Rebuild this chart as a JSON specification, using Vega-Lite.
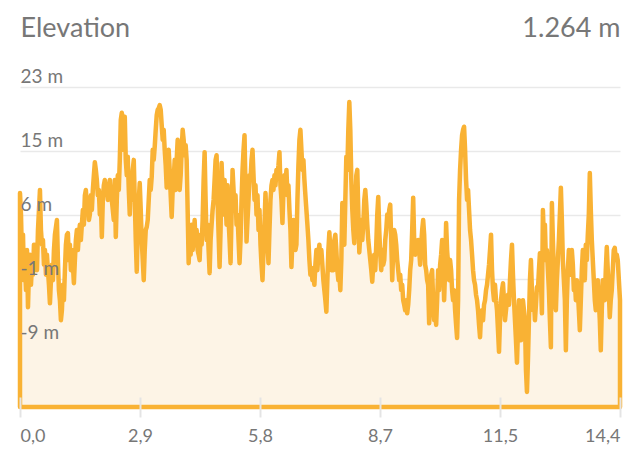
{
  "$schema": "https://vega.github.io/schema/vega-lite/v6.json",
  "autosize": {"type": "none"},
  "width": 600,
  "height": 320,
  "padding": {"left": 20, "top": 87, "right": 20, "bottom": 65},
  "background": "white",
  "config": {"view": {"stroke": null}, "font": "Lato"},
  "data": {"values": [
{"km":0,"m":9.6},{"km":0.024,"m":6.8},{"km":0.048,"m":0.9},{"km":0.072,"m":4.2},{"km":0.096,"m":-1.7},{"km":0.12,"m":0.3},{"km":0.144,"m":-3.0},{"km":0.168,"m":2.2},{"km":0.192,"m":-5.2},{"km":0.216,"m":-0.4},{"km":0.24,"m":1.6},{"km":0.264,"m":-2.3},{"km":0.288,"m":0.3},{"km":0.312,"m":-1.0},{"km":0.336,"m":2.9},{"km":0.36,"m":0.9},{"km":0.384,"m":2.9},{"km":0.408,"m":-0.4},{"km":0.432,"m":4.8},{"km":0.456,"m":7.4},{"km":0.48,"m":10.0},{"km":0.504,"m":4.8},{"km":0.528,"m":2.9},{"km":0.552,"m":3.5},{"km":0.576,"m":0.3},{"km":0.6,"m":2.2},{"km":0.624,"m":-1.0},{"km":0.648,"m":1.6},{"km":0.672,"m":-0.4},{"km":0.696,"m":-2.3},{"km":0.72,"m":-4.7},{"km":0.744,"m":-1.7},{"km":0.768,"m":0.3},{"km":0.792,"m":-1.7},{"km":0.816,"m":2.2},{"km":0.84,"m":4.2},{"km":0.888,"m":6.1},{"km":0.912,"m":0.9},{"km":0.936,"m":-3.0},{"km":0.96,"m":-4.3},{"km":0.984,"m":-6.9},{"km":1.008,"m":-5.6},{"km":1.032,"m":-2.3},{"km":1.056,"m":-4.3},{"km":1.08,"m":-0.4},{"km":1.104,"m":2.9},{"km":1.128,"m":4.2},{"km":1.152,"m":4.4},{"km":1.176,"m":0.9},{"km":1.2,"m":2.9},{"km":1.224,"m":-0.4},{"km":1.248,"m":2.2},{"km":1.272,"m":0.3},{"km":1.296,"m":-2.1},{"km":1.32,"m":0.9},{"km":1.344,"m":3.5},{"km":1.368,"m":4.8},{"km":1.392,"m":2.2},{"km":1.416,"m":4.2},{"km":1.44,"m":5.5},{"km":1.464,"m":3.5},{"km":1.488,"m":5.5},{"km":1.512,"m":7.4},{"km":1.536,"m":5.5},{"km":1.56,"m":9.3},{"km":1.584,"m":10.0},{"km":1.608,"m":8.1},{"km":1.632,"m":8.7},{"km":1.656,"m":6.1},{"km":1.68,"m":6.8},{"km":1.704,"m":9.3},{"km":1.728,"m":7.4},{"km":1.752,"m":10.0},{"km":1.776,"m":11.9},{"km":1.8,"m":13.6},{"km":1.824,"m":12.6},{"km":1.848,"m":11.3},{"km":1.872,"m":9.3},{"km":1.896,"m":10.0},{"km":1.92,"m":6.8},{"km":1.944,"m":8.7},{"km":1.968,"m":3.9},{"km":1.992,"m":8.7},{"km":2.016,"m":10.6},{"km":2.04,"m":11.3},{"km":2.064,"m":10.0},{"km":2.088,"m":10.6},{"km":2.112,"m":8.7},{"km":2.136,"m":10.0},{"km":2.16,"m":11.3},{"km":2.184,"m":9.3},{"km":2.208,"m":8.7},{"km":2.232,"m":7.4},{"km":2.256,"m":6.1},{"km":2.28,"m":11.3},{"km":2.304,"m":3.9},{"km":2.328,"m":8.7},{"km":2.352,"m":11.9},
{"km":2.376,"m":10.0},{"km":2.4,"m":13.9},{"km":2.424,"m":19.1},{"km":2.448,"m":20.0},{"km":2.472,"m":19.3},{"km":2.496,"m":15.2},{"km":2.52,"m":19.5},{"km":2.544,"m":13.9},{"km":2.568,"m":11.9},{"km":2.592,"m":14.3},{"km":2.616,"m":10.0},{"km":2.64,"m":6.8},{"km":2.664,"m":11.3},{"km":2.688,"m":8.7},{"km":2.712,"m":12.6},{"km":2.736,"m":13.9},{"km":2.76,"m":8.7},{"km":2.784,"m":3.5},{"km":2.808,"m":-0.6},{"km":2.832,"m":4.8},{"km":2.856,"m":8.7},{"km":2.88,"m":10.9},{"km":2.904,"m":7.4},{"km":2.928,"m":3.5},{"km":2.952,"m":0.9},{"km":2.976,"m":-1.7},{"km":3.0,"m":2.2},{"km":3.024,"m":4.8},{"km":3.048,"m":5.2},{"km":3.072,"m":6.1},{"km":3.096,"m":8.7},{"km":3.12,"m":11.3},{"km":3.144,"m":10.0},{"km":3.168,"m":11.7},{"km":3.192,"m":15.2},{"km":3.216,"m":13.9},{"km":3.24,"m":15.6},{"km":3.264,"m":17.8},{"km":3.288,"m":19.7},{"km":3.312,"m":20.4},{"km":3.336,"m":20.6},{"km":3.36,"m":21.0},{"km":3.384,"m":20.4},{"km":3.408,"m":18.4},{"km":3.432,"m":16.5},{"km":3.456,"m":17.8},{"km":3.48,"m":15.2},{"km":3.504,"m":13.2},{"km":3.528,"m":10.3},{"km":3.552,"m":13.9},{"km":3.576,"m":15.2},{"km":3.6,"m":12.6},{"km":3.624,"m":9.3},{"km":3.648,"m":6.5},{"km":3.672,"m":10.0},{"km":3.696,"m":11.3},{"km":3.72,"m":13.9},{"km":3.744,"m":10.0},{"km":3.768,"m":13.9},{"km":3.792,"m":16.5},{"km":3.816,"m":13.2},{"km":3.84,"m":10.0},{"km":3.864,"m":11.9},{"km":3.888,"m":15.2},{"km":3.912,"m":17.8},{"km":3.936,"m":16.5},{"km":3.96,"m":14.5},{"km":3.984,"m":15.8},{"km":4.008,"m":13.9},{"km":4.032,"m":7.4},{"km":4.056,"m":0.5},{"km":4.08,"m":3.5},{"km":4.104,"m":1.6},{"km":4.128,"m":5.5},{"km":4.152,"m":2.2},{"km":4.176,"m":3.5},{"km":4.2,"m":6.1},{"km":4.224,"m":2.9},{"km":4.248,"m":4.8},{"km":4.272,"m":2.2},{"km":4.296,"m":1.6},{"km":4.32,"m":0.9},{"km":4.344,"m":4.2},{"km":4.368,"m":2.9},{"km":4.392,"m":6.1},{"km":4.416,"m":11.3},{"km":4.44,"m":14.9},{"km":4.464,"m":8.7},{"km":4.488,"m":3.5},{"km":4.512,"m":5.5},{"km":4.536,"m":2.2},{"km":4.56,"m":-0.8},{"km":4.584,"m":3.5},{"km":4.608,"m":5.5},{"km":4.632,"m":7.4},{"km":4.656,"m":8.7},{"km":4.68,"m":11.3},{"km":4.704,"m":13.9},{"km":4.728,"m":14.5},{"km":4.752,"m":8.7},{"km":4.776,"m":4.2},{"km":4.8,"m":0.0},
{"km":4.824,"m":4.8},{"km":4.848,"m":13.5},{"km":4.872,"m":10.0},{"km":4.896,"m":6.8},{"km":4.92,"m":11.3},{"km":4.944,"m":8.7},{"km":4.968,"m":5.5},{"km":4.992,"m":10.6},{"km":5.016,"m":6.1},{"km":5.04,"m":3.5},{"km":5.064,"m":0.5},{"km":5.088,"m":6.8},{"km":5.112,"m":12.6},{"km":5.136,"m":10.0},{"km":5.16,"m":7.4},{"km":5.184,"m":9.3},{"km":5.208,"m":5.5},{"km":5.232,"m":6.8},{"km":5.256,"m":3.5},{"km":5.28,"m":0.5},{"km":5.304,"m":3.5},{"km":5.328,"m":8.7},{"km":5.352,"m":12.6},{"km":5.376,"m":15.2},{"km":5.4,"m":17.1},{"km":5.424,"m":10.0},{"km":5.448,"m":3.3},{"km":5.472,"m":6.1},{"km":5.496,"m":8.7},{"km":5.52,"m":11.9},{"km":5.544,"m":11.3},{"km":5.568,"m":13.9},{"km":5.592,"m":15.2},{"km":5.616,"m":11.9},{"km":5.64,"m":8.7},{"km":5.664,"m":10.6},{"km":5.688,"m":6.8},{"km":5.712,"m":9.3},{"km":5.736,"m":4.8},{"km":5.76,"m":7.4},{"km":5.784,"m":2.9},{"km":5.808,"m":0.3},{"km":5.832,"m":-1.7},{"km":5.856,"m":2.2},{"km":5.88,"m":5.5},{"km":5.904,"m":9.6},{"km":5.928,"m":6.1},{"km":5.952,"m":2.9},{"km":5.976,"m":0.5},{"km":6.0,"m":4.8},{"km":6.024,"m":8.7},{"km":6.048,"m":10.6},{"km":6.072,"m":11.3},{"km":6.096,"m":10.0},{"km":6.12,"m":11.9},{"km":6.144,"m":10.6},{"km":6.168,"m":12.6},{"km":6.192,"m":11.9},{"km":6.216,"m":13.2},{"km":6.24,"m":14.9},{"km":6.264,"m":10.6},{"km":6.288,"m":8.7},{"km":6.312,"m":5.7},{"km":6.336,"m":10.0},{"km":6.36,"m":11.9},{"km":6.384,"m":10.6},{"km":6.408,"m":12.6},{"km":6.432,"m":9.3},{"km":6.456,"m":10.6},{"km":6.48,"m":7.4},{"km":6.504,"m":4.8},{"km":6.528,"m":0.0},{"km":6.552,"m":3.5},{"km":6.576,"m":6.1},{"km":6.6,"m":4.2},{"km":6.624,"m":2.2},{"km":6.648,"m":2.9},{"km":6.672,"m":8.7},{"km":6.696,"m":13.2},{"km":6.72,"m":16.5},{"km":6.744,"m":17.8},{"km":6.768,"m":15.2},{"km":6.792,"m":12.6},{"km":6.816,"m":13.9},{"km":6.84,"m":11.3},{"km":6.864,"m":9.3},{"km":6.888,"m":7.4},{"km":6.912,"m":5.5},{"km":6.936,"m":3.5},{"km":6.96,"m":0.9},{"km":6.984,"m":-1.0},{"km":7.008,"m":-0.1},{"km":7.032,"m":-1.7},{"km":7.056,"m":-1.3},{"km":7.08,"m":-2.3},{"km":7.104,"m":0.3},
{"km":7.128,"m":2.2},{"km":7.152,"m":-0.4},{"km":7.176,"m":1.6},{"km":7.2,"m":2.9},{"km":7.224,"m":0.9},{"km":7.248,"m":2.2},{"km":7.272,"m":0.3},{"km":7.296,"m":-1.7},{"km":7.32,"m":-3.0},{"km":7.344,"m":-4.3},{"km":7.368,"m":-5.8},{"km":7.392,"m":-1.7},{"km":7.416,"m":2.2},{"km":7.44,"m":4.5},{"km":7.464,"m":2.2},{"km":7.488,"m":-0.4},{"km":7.512,"m":1.6},{"km":7.536,"m":-0.4},{"km":7.56,"m":3.5},{"km":7.584,"m":4.2},{"km":7.608,"m":2.2},{"km":7.632,"m":-0.4},{"km":7.656,"m":-1.7},{"km":7.68,"m":-1.0},{"km":7.704,"m":-3.0},{"km":7.728,"m":0.9},{"km":7.752,"m":8.3},{"km":7.776,"m":4.8},{"km":7.8,"m":2.9},{"km":7.824,"m":8.7},{"km":7.848,"m":14.3},{"km":7.872,"m":12.6},{"km":7.896,"m":17.8},{"km":7.92,"m":21.4},{"km":7.944,"m":17.8},{"km":7.968,"m":11.3},{"km":7.992,"m":7.4},{"km":8.016,"m":4.8},{"km":8.04,"m":3.1},{"km":8.064,"m":7.4},{"km":8.088,"m":11.9},{"km":8.112,"m":12.6},{"km":8.136,"m":7.4},{"km":8.16,"m":1.9},{"km":8.184,"m":4.2},{"km":8.208,"m":6.1},{"km":8.232,"m":3.5},{"km":8.256,"m":5.5},{"km":8.28,"m":8.7},{"km":8.304,"m":10.0},{"km":8.328,"m":8.1},{"km":8.352,"m":5.5},{"km":8.376,"m":3.5},{"km":8.4,"m":2.2},{"km":8.424,"m":0.9},{"km":8.448,"m":-0.4},{"km":8.472,"m":-1.9},{"km":8.496,"m":0.3},{"km":8.52,"m":1.6},{"km":8.544,"m":-0.4},{"km":8.568,"m":2.9},{"km":8.592,"m":6.8},{"km":8.616,"m":9.1},{"km":8.64,"m":4.8},{"km":8.664,"m":1.6},{"km":8.688,"m":-0.4},{"km":8.712,"m":2.2},{"km":8.736,"m":0.3},{"km":8.76,"m":0.9},{"km":8.784,"m":3.5},{"km":8.808,"m":4.8},{"km":8.832,"m":6.8},{"km":8.856,"m":5.5},{"km":8.88,"m":7.4},{"km":8.904,"m":8.1},{"km":8.928,"m":3.5},{"km":8.952,"m":-1.7},{"km":8.976,"m":2.2},{"km":9.0,"m":4.8},{"km":9.024,"m":4.2},{"km":9.048,"m":2.9},{"km":9.072,"m":0.9},{"km":9.096,"m":-0.4},{"km":9.12,"m":-1.7},{"km":9.144,"m":-1.0},{"km":9.168,"m":-3.0},{"km":9.192,"m":-2.3},{"km":9.216,"m":-4.3},{"km":9.24,"m":-4.9},{"km":9.264,"m":-5.6},{"km":9.288,"m":-4.3},{"km":9.312,"m":-6.0},{"km":9.336,"m":-4.9},{"km":9.36,"m":-3.0},{"km":9.384,"m":-0.4},{"km":9.408,"m":0.9},{"km":9.432,"m":4.8},{"km":9.456,"m":9.0},{"km":9.48,"m":3.5},{"km":9.504,"m":1.6},{"km":9.528,"m":2.9},{"km":9.552,"m":2.2},
{"km":9.576,"m":3.5},{"km":9.6,"m":2.2},{"km":9.624,"m":0.3},{"km":9.648,"m":2.9},{"km":9.672,"m":4.8},{"km":9.696,"m":6.1},{"km":9.72,"m":4.2},{"km":9.744,"m":0.3},{"km":9.768,"m":-0.4},{"km":9.792,"m":-1.7},{"km":9.816,"m":-2.3},{"km":9.84,"m":-7.3},{"km":9.864,"m":-4.3},{"km":9.888,"m":-1.0},{"km":9.912,"m":-0.4},{"km":9.936,"m":-4.3},{"km":9.96,"m":-6.9},{"km":9.984,"m":-5.6},{"km":10.008,"m":-7.5},{"km":10.032,"m":-4.3},{"km":10.056,"m":-0.4},{"km":10.08,"m":-3.0},{"km":10.104,"m":0.3},{"km":10.128,"m":1.6},{"km":10.152,"m":3.5},{"km":10.176,"m":0.9},{"km":10.2,"m":-4.3},{"km":10.224,"m":-0.4},{"km":10.248,"m":5.7},{"km":10.272,"m":2.2},{"km":10.296,"m":0.3},{"km":10.32,"m":-1.7},{"km":10.344,"m":0.9},{"km":10.368,"m":-0.4},{"km":10.392,"m":-3.0},{"km":10.416,"m":-4.3},{"km":10.44,"m":-3.0},{"km":10.464,"m":-5.6},{"km":10.488,"m":-7.5},{"km":10.512,"m":-9.2},{"km":10.536,"m":-4.3},{"km":10.56,"m":8.7},{"km":10.584,"m":12.6},{"km":10.608,"m":15.2},{"km":10.632,"m":17.1},{"km":10.656,"m":17.8},{"km":10.68,"m":18.2},{"km":10.704,"m":15.2},{"km":10.728,"m":11.3},{"km":10.752,"m":8.7},{"km":10.776,"m":10.0},{"km":10.8,"m":7.4},{"km":10.824,"m":4.8},{"km":10.848,"m":3.5},{"km":10.872,"m":1.6},{"km":10.896,"m":-0.4},{"km":10.92,"m":-1.7},{"km":10.944,"m":-2.3},{"km":10.968,"m":-3.6},{"km":10.992,"m":-4.3},{"km":11.016,"m":-5.6},{"km":11.04,"m":-7.5},{"km":11.064,"m":-9.1},{"km":11.088,"m":-6.2},{"km":11.112,"m":-5.6},{"km":11.136,"m":-6.9},{"km":11.16,"m":-4.9},{"km":11.184,"m":-4.3},{"km":11.208,"m":-3.0},{"km":11.232,"m":-2.3},{"km":11.256,"m":-1.0},{"km":11.28,"m":0.3},{"km":11.304,"m":2.2},{"km":11.328,"m":4.2},{"km":11.352,"m":-0.4},{"km":11.376,"m":-3.0},{"km":11.4,"m":-4.3},{"km":11.424,"m":-2.3},{"km":11.448,"m":-4.3},{"km":11.472,"m":-5.6},{"km":11.496,"m":-8.2},{"km":11.52,"m":-11.0},{"km":11.544,"m":-6.9},{"km":11.568,"m":-4.3},{"km":11.592,"m":-3.0},{"km":11.616,"m":-2.1},{"km":11.64,"m":-4.3},{"km":11.664,"m":-6.9},{"km":11.688,"m":-5.6},{"km":11.712,"m":-4.3},{"km":11.736,"m":-3.6},{"km":11.76,"m":-4.9},{"km":11.784,"m":-1.7},{"km":11.808,"m":0.9},{"km":11.832,"m":2.9},{"km":11.856,"m":-1.0},{"km":11.88,"m":-4.3},{"km":11.904,"m":-6.9},{"km":11.928,"m":-9.5},{"km":11.952,"m":-12.4},
{"km":11.976,"m":-8.2},{"km":12.0,"m":-4.3},{"km":12.024,"m":-6.9},{"km":12.048,"m":-9.5},{"km":12.072,"m":-5.6},{"km":12.096,"m":-4.3},{"km":12.12,"m":-5.6},{"km":12.144,"m":-6.9},{"km":12.168,"m":-13.3},{"km":12.192,"m":-16.2},{"km":12.216,"m":-12.1},{"km":12.24,"m":-6.9},{"km":12.264,"m":-1.7},{"km":12.288,"m":0.9},{"km":12.312,"m":-3.0},{"km":12.336,"m":-5.6},{"km":12.36,"m":-4.3},{"km":12.384,"m":-6.9},{"km":12.408,"m":-4.9},{"km":12.432,"m":-2.6},{"km":12.456,"m":-3.0},{"km":12.48,"m":-0.4},{"km":12.504,"m":1.8},{"km":12.528,"m":-1.7},{"km":12.552,"m":-6.0},{"km":12.576,"m":7.4},{"km":12.6,"m":3.5},{"km":12.624,"m":5.5},{"km":12.648,"m":0.9},{"km":12.672,"m":2.2},{"km":12.696,"m":-0.4},{"km":12.72,"m":-3.0},{"km":12.744,"m":-6.9},{"km":12.768,"m":-10.4},{"km":12.792,"m":8.3},{"km":12.816,"m":3.5},{"km":12.84,"m":-0.4},{"km":12.864,"m":-4.3},{"km":12.888,"m":-5.6},{"km":12.912,"m":-1.7},{"km":12.936,"m":0.9},{"km":12.96,"m":3.5},{"km":12.984,"m":6.8},{"km":13.008,"m":10.3},{"km":13.032,"m":6.1},{"km":13.056,"m":0.9},{"km":13.08,"m":-1.7},{"km":13.104,"m":-4.3},{"km":13.128,"m":-10.8},{"km":13.152,"m":-4.3},{"km":13.176,"m":-0.4},{"km":13.2,"m":2.2},{"km":13.224,"m":0.9},{"km":13.248,"m":-1.0},{"km":13.272,"m":2.2},{"km":13.296,"m":0.3},{"km":13.32,"m":-3.0},{"km":13.344,"m":-1.7},{"km":13.368,"m":-4.3},{"km":13.392,"m":-1.7},{"km":13.416,"m":-3.0},{"km":13.44,"m":-5.6},{"km":13.464,"m":-8.2},{"km":13.488,"m":-4.3},{"km":13.512,"m":-0.4},{"km":13.536,"m":2.2},{"km":13.56,"m":0.3},{"km":13.584,"m":-1.7},{"km":13.608,"m":2.9},{"km":13.632,"m":0.9},{"km":13.656,"m":4.2},{"km":13.68,"m":6.8},{"km":13.704,"m":12.2},{"km":13.728,"m":7.4},{"km":13.752,"m":3.5},{"km":13.776,"m":0.9},{"km":13.8,"m":-1.7},{"km":13.824,"m":-4.3},{"km":13.848,"m":-5.6},{"km":13.872,"m":-3.6},{"km":13.896,"m":-1.7},{"km":13.92,"m":-4.3},{"km":13.944,"m":-6.9},{"km":13.968,"m":-10.8},{"km":13.992,"m":-5.6},{"km":14.016,"m":-1.7},{"km":14.04,"m":-2.3},{"km":14.064,"m":-4.3},{"km":14.088,"m":-0.4},{"km":14.112,"m":2.6},{"km":14.136,"m":-0.4},{"km":14.16,"m":-3.0},{"km":14.184,"m":-6.5},{"km":14.208,"m":-4.3},{"km":14.232,"m":-3.0},{"km":14.256,"m":-0.4},{"km":14.28,"m":2.2},{"km":14.304,"m":2.5},{"km":14.328,"m":0.9},{"km":14.352,"m":1.6},{"km":14.376,"m":0.9},{"km":14.43,"m":-4.3}
  ]},
  "layer": [
    {
      "mark": {"type": "area", "color": "#FDF4E6", "fillOpacity": 1},
      "encoding": {
        "x": {"field": "km", "type": "quantitative",
          "scale": {"domain": [0, 14.43], "nice": false, "zero": false},
          "axis": {"orient": "bottom", "values": [0, 2.886, 5.772, 8.658, 11.544, 14.43],
            "labelExpr": "replace(format(datum.value, '.1f'), '.', ',')",
            "grid": false, "domain": false, "ticks": true, "tickSize": 20, "tickColor": "#e4e4e4", "tickWidth": 2,
            "offset": -10, "labelFontSize": 18, "labelColor": "#777777", "labelPadding": 10, "labelFlush": true,
            "zindex": 1, "title": null}},
        "y": {"field": "m", "type": "quantitative",
          "scale": {"domain": [-18.15, 23.35], "nice": false, "zero": false},
          "axis": {"orient": "left", "values": [-9.85, -1.55, 6.75, 15.05, 23.35],
            "grid": true, "gridColor": "#e9e9e9", "gridWidth": 1.5, "labels": false, "ticks": false, "domain": false,
            "title": null, "zindex": 0}},
        "y2": {"datum": -18.15}
      }
    },
    {
      "mark": {"type": "area", "fillOpacity": 0, "stroke": "#F9B234", "strokeWidth": 4.5, "strokeJoin": "round"},
      "encoding": {
        "x": {"field": "km", "type": "quantitative",
          "axis": {"orient": "top", "labels": false, "ticks": false, "domain": false, "grid": false,
            "title": "1.264 m", "titleX": 600, "titleY": -51, "titleAlign": "right", "titleAngle": 0,
            "titleBaseline": "alphabetic", "titleFontSize": 27, "titleFontWeight": "normal", "titleColor": "#777777"}},
        "y": {"field": "m", "type": "quantitative",
          "axis": {"orient": "left", "values": [-9.85, -1.55, 6.75, 15.05, 23.35],
            "labelExpr": "(datum.value < 0 ? ceil(datum.value) : floor(datum.value)) + ' m'",
            "grid": false, "ticks": false, "domain": false, "labelAlign": "left", "labelPadding": 0,
            "labelBaseline": "alphabetic", "labelOffset": -5, "labelFontSize": 19, "labelColor": "#777777",
            "zindex": 1,
            "title": "Elevation", "titleX": 0, "titleY": -51, "titleAlign": "left", "titleAngle": 0,
            "titleBaseline": "alphabetic", "titleFontSize": 27, "titleFontWeight": "normal", "titleColor": "#777777"}},
        "y2": {"datum": -18.15}
      }
    }
  ],
  "resolve": {"axis": {"x": "independent", "y": "independent"}}
}
